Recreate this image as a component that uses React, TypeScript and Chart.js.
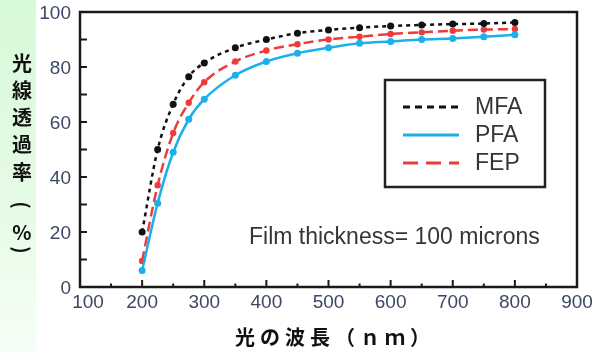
import React, { useEffect, useRef } from "react";
import { Chart, registerables } from "chart.js";

Chart.register(...registerables);

const wavelengths = [200, 225, 250, 275, 300, 350, 400, 450, 500, 550, 600, 650, 700, 750, 800];
const mfaValues = [20, 50, 66.5, 76.5, 81.5, 87, 90, 92.3, 93.5, 94.3, 94.9, 95.3, 95.6, 95.8, 96.2];
const pfaValues = [6, 30.5, 49, 61, 68.3, 77, 82, 85, 87, 88.6, 89.3, 90, 90.4, 91, 91.7];
const fepValues = [9.5, 37, 56, 67, 74.5, 82, 86, 88.3, 90, 91, 92, 92.6, 93.2, 93.6, 93.8];

const seriesNames = ["MFA", "PFA", "FEP"];
const xTickLabels = [100, 200, 300, 400, 500, 600, 700, 800, 900];
const yTickLabels = [0, 20, 40, 60, 80, 100];
const yTitleChars = ["光", "線", "透", "過", "率", "(", "%", ")"];
const xTitle = "光の波長（ｎｍ）";
const annotation = "Film thickness= 100 microns";

const BLACK = "#111111";
const BLUE = "#1bb0ec";
const RED = "#ee3a3a";
const TICK_COLOR = "#3d4766";
const TEXT_COLOR = "#353535";

const styles = [
  { color: BLACK, dash: [4, 4], legendDash: [7, 5], radius: 3.5 },
  { color: BLUE, dash: [], legendDash: [], radius: 3.5 },
  { color: RED, dash: [10, 5], legendDash: [15, 8], radius: 3.2 },
];

const decorPlugin = {
  id: "decor",
  beforeDraw(chart: any) {
    const ctx = chart.ctx;
    ctx.save();
    ctx.fillStyle = "#ffffff";
    ctx.fillRect(0, 0, chart.width, chart.height);
    const g = ctx.createLinearGradient(0, 0, 0, chart.height);
    g.addColorStop(0, "#d8f9d8");
    g.addColorStop(0.6, "#e6fbe6");
    g.addColorStop(1, "#f6fff6");
    ctx.fillStyle = g;
    ctx.fillRect(0, 0, 36, chart.height);
    ctx.restore();
  },
  afterDraw(chart: any) {
    const ctx = chart.ctx;
    const area = chart.chartArea;
    const xs = chart.scales.x;
    const ys = chart.scales.y;
    ctx.save();

    // tick marks (inward)
    ctx.strokeStyle = "#1a1a1a";
    ctx.lineWidth = 2;
    ctx.setLineDash([]);
    for (let v = 10; v < 100; v += 10) {
      const py = ys.getPixelForValue(v);
      ctx.beginPath();
      ctx.moveTo(area.left, py);
      ctx.lineTo(area.left + 7, py);
      ctx.stroke();
    }
    for (let v = 150; v < 900; v += 50) {
      const px = xs.getPixelForValue(v);
      const len = v % 100 === 0 ? 7 : 3.5;
      ctx.beginPath();
      ctx.moveTo(px, area.bottom);
      ctx.lineTo(px, area.bottom - len);
      ctx.stroke();
    }

    // frame
    ctx.lineWidth = 2.5;
    ctx.strokeRect(area.left, area.top, area.right - area.left, area.bottom - area.top);

    // tick labels
    ctx.fillStyle = TICK_COLOR;
    ctx.font = '19px "Liberation Sans", Arial, sans-serif';
    ctx.textAlign = "right";
    ctx.textBaseline = "middle";
    yTickLabels.forEach((v) => {
      ctx.fillText(String(v), area.left - 9, ys.getPixelForValue(v) + 2);
    });
    ctx.textAlign = "center";
    xTickLabels.forEach((v, i) => {
      const off = i === 0 ? 8 : 0;
      ctx.fillText(String(v), xs.getPixelForValue(v) + off, area.bottom + 16);
    });

    // y title (vertical, brackets rotated)
    ctx.fillStyle = "#111111";
    ctx.textAlign = "center";
    ctx.textBaseline = "middle";
    yTitleChars.forEach((c, i) => {
      const cy = 63 + i * 27.3;
      if (c === "(" || c === ")") {
        ctx.save();
        ctx.font = 'bold 20px "Noto Sans CJK JP", sans-serif';
        const y = c === "(" ? 205 : 250;
        ctx.translate(22, y);
        ctx.rotate(Math.PI / 2);
        ctx.fillText(c, 0, 0);
        ctx.restore();
      } else {
        ctx.font = 'bold 20px "Noto Sans CJK JP", sans-serif';
        ctx.fillText(c, 22, c === "%" ? 232 : cy);
      }
    });

    // x title
    ctx.font = 'bold 20px "Noto Sans CJK JP", sans-serif';
    ctx.textAlign = "left";
    (ctx as any).letterSpacing = "5px";
    ctx.fillText(xTitle, 235, 337);
    (ctx as any).letterSpacing = "0px";

    // annotation
    ctx.fillStyle = TEXT_COLOR;
    ctx.font = '23px "Liberation Sans", Arial, sans-serif';
    ctx.textBaseline = "alphabetic";
    ctx.fillText(annotation, 249, 244, 294);

    // legend
    const lx = 385, ly = 80, lw = 160, lh = 107;
    ctx.fillStyle = "#ffffff";
    ctx.fillRect(lx, ly, lw, lh);
    ctx.strokeStyle = "#222222";
    ctx.lineWidth = 2.5;
    ctx.setLineDash([]);
    ctx.strokeRect(lx, ly, lw, lh);
    const rows = [107, 135, 163];
    chart.data.datasets.forEach((ds: any, i: number) => {
      const st = styles[i];
      ctx.strokeStyle = st.color;
      ctx.lineWidth = 3;
      ctx.setLineDash(st.legendDash);
      ctx.beginPath();
      ctx.moveTo(403, rows[i]);
      ctx.lineTo(459, rows[i]);
      ctx.stroke();
      ctx.setLineDash([]);
      ctx.fillStyle = TEXT_COLOR;
      ctx.font = '23px "Liberation Sans", Arial, sans-serif';
      ctx.textBaseline = "middle";
      ctx.textAlign = "left";
      ctx.fillText(ds.label, 475, rows[i] + 1);
    });

    ctx.restore();
  },
};

export default function App() {
  const ref = useRef<HTMLCanvasElement | null>(null);
  useEffect(() => {
    if (!ref.current) return;
    const series = [mfaValues, pfaValues, fepValues];
    const chart = new Chart(ref.current, {
      type: "line",
      data: {
        datasets: series.map((vals, i) => ({
          label: seriesNames[i],
          data: wavelengths.map((w, j) => ({ x: w, y: vals[j] })),
          borderColor: styles[i].color,
          backgroundColor: styles[i].color,
          borderWidth: 2.5,
          borderDash: styles[i].dash,
          pointRadius: styles[i].radius,
          pointBorderWidth: 0,
          pointBackgroundColor: styles[i].color,
          cubicInterpolationMode: "monotone" as const,
          fill: false,
        })),
      },
      options: {
        animation: false,
        responsive: false,
        devicePixelRatio: 1,
        layout: { padding: { left: 0, top: 12, right: 15, bottom: 0 } },
        plugins: { legend: { display: false }, tooltip: { enabled: false } },
        scales: {
          x: {
            type: "linear",
            min: 100,
            max: 900,
            ticks: { display: false },
            grid: { display: false },
            border: { display: false },
            afterFit: (s: any) => { s.height = 66; },
          },
          y: {
            type: "linear",
            min: 0,
            max: 100,
            ticks: { display: false },
            grid: { display: false },
            border: { display: false },
            afterFit: (s: any) => { s.width = 80; },
          },
        },
      },
      plugins: [decorPlugin],
    });
    return () => chart.destroy();
  }, []);
  return (
    <div style={{ position: "fixed", left: 0, top: 0, width: 592, height: 353 }}>
      <canvas ref={ref} width={592} height={353} />
    </div>
  );
}
